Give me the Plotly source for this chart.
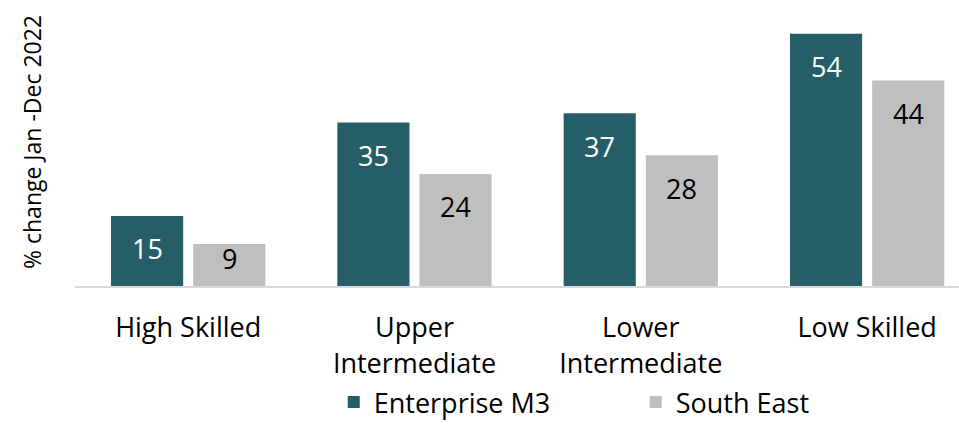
import plotly.graph_objects as go

categories = ["High Skilled", "Upper<br>Intermediate", "Lower<br>Intermediate", "Low Skilled"]
series_names = ["Enterprise M3", "South East"]
enterprise_m3 = [15, 35, 37, 54]
south_east = [9, 24, 28, 44]

DARK = "#255E66"
GREY = "#BFBFBF"
FONT = "Open Sans"

BARGAP = 0.274
GROUPGAP = 0.122
offset = (1 - BARGAP) / 4


def label_shift(v):
    return -33 if v >= 12 else -15


fig = go.Figure()
fig.add_trace(go.Bar(x=categories, y=enterprise_m3, name=series_names[0],
                     marker=dict(color=DARK, line=dict(width=0))))
fig.add_trace(go.Bar(x=categories, y=south_east, name=series_names[1],
                     marker=dict(color=GREY, line=dict(width=0))))

annotations = []
for i, (a, b) in enumerate(zip(enterprise_m3, south_east)):
    annotations.append(dict(x=i - offset, y=a, xref="x", yref="y", text=str(a),
                            showarrow=False, yanchor="middle", yshift=label_shift(a),
                            font=dict(family=FONT, size=27, color="white")))
    annotations.append(dict(x=i + offset, y=b, xref="x", yref="y", text=str(b),
                            showarrow=False, yanchor="middle", yshift=label_shift(b),
                            font=dict(family=FONT, size=27, color="black")))
annotations.append(dict(x=(32 - 75) / 884, y=(286 - 142) / 255, xref="paper", yref="paper",
                        text="% change Jan -Dec 2022",
                        showarrow=False, textangle=-90, xanchor="center", yanchor="middle",
                        font=dict(family=FONT, size=23, color="black")))

fig.update_layout(
    width=959, height=427,
    margin=dict(l=75, r=0, t=31, b=141),
    paper_bgcolor="white", plot_bgcolor="white",
    barmode="group", bargap=BARGAP, bargroupgap=GROUPGAP,
    font=dict(family=FONT, size=27, color="black"),
    showlegend=True,
    annotations=annotations,
    legend=dict(orientation="h", xref="container", yref="container",
                x=0.348, y=0.0, xanchor="left", yanchor="bottom",
                entrywidth=257, entrywidthmode="pixels",
                font=dict(family=FONT, size=27, color="black"), traceorder="normal"),
    xaxis=dict(type="category", range=[-0.5, 3.406], showline=True, linecolor="#D9D9D9",
               linewidth=2, ticks="", showgrid=False, tickfont=dict(family=FONT, size=27, color="black"),
               ticklabelstandoff=17, automargin=False),
    yaxis=dict(range=[0, 54.6], showticklabels=False, showgrid=False, zeroline=False,
               showline=False, ticks="", automargin=False),
)

fig.write_html("out.html", config={"displayModeBar": False},
               post_script="document.body.style.margin='0';document.body.style.overflow='hidden';")
